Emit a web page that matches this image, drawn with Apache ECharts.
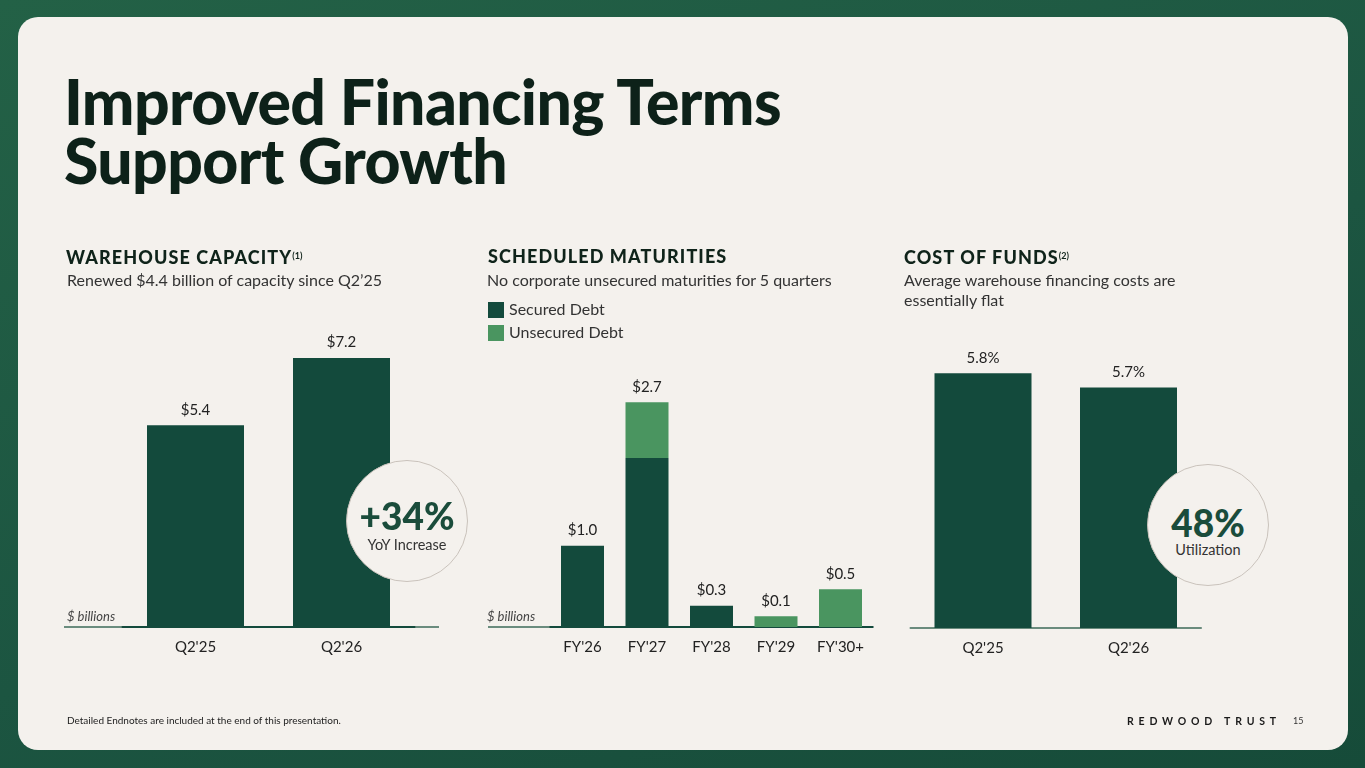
<!DOCTYPE html>
<html><head><meta charset="utf-8">
<script src="https://cdn.jsdelivr.net/npm/echarts@6/dist/echarts.min.js"></script>
<style>
html,body{margin:0;padding:0;width:1365px;height:768px;overflow:hidden;}
body{background:linear-gradient(160deg,#236146 0%,#1c5541 55%,#164b39 100%);font-family:Lato,sans-serif;position:relative;}
#card{position:absolute;left:18px;top:17px;width:1330px;height:733px;background:#f4f1ed;border-radius:20px;}
#chart{position:absolute;left:0;top:0;width:1365px;height:768px;}
.t{position:absolute;white-space:nowrap;z-index:3;}
.title{left:64px;font-family:Lato,sans-serif;font-weight:900;font-size:62.5px;color:#0d2119;line-height:60px;letter-spacing:-0.6px;}
.hd{font-weight:900;font-size:18px;color:#0f231a;letter-spacing:1.1px;line-height:20px;top:246px;}
.hd sup{font-size:9px;font-weight:700;letter-spacing:0;vertical-align:5px;}
.sub{font-size:16px;color:#333;line-height:20px;}
.unit{font-style:italic;font-size:13px;color:#444;line-height:16px;top:608px;}
.circle{position:absolute;z-index:4;width:122px;height:122px;border-radius:50%;background:#f4f1ed;border:1.5px solid #c9c2bb;box-sizing:border-box;}
.circle .big{position:absolute;left:0;right:0;text-align:center;font-weight:900;font-size:37px;color:#1a4c3b;line-height:40px;}
.circle .small{position:absolute;left:0;right:0;text-align:center;font-size:14.5px;color:#333;line-height:18px;}
.foot{font-size:10px;color:#222;top:714px;left:67px;line-height:13px;}
.brand{font-weight:700;font-size:10.5px;color:#1a1a1a;letter-spacing:4.8px;top:714px;left:1127px;line-height:14px;}
.page{font-size:9px;color:#333;top:715px;left:1293px;line-height:12px;}
</style></head>
<body>
<div id="card"></div>
<div id="chart"></div>
<div class="t title" style="top:71px;">Improved Financing Terms</div>
<div class="t title" style="top:130px;">Support Growth</div>

<div class="t hd" style="left:66px;">WAREHOUSE CAPACITY<sup>(1)</sup></div>
<div class="t sub" style="left:67px;top:270px;">Renewed $4.4 billion of capacity since Q2’25</div>
<div class="t unit" style="left:67px;">$ billions</div>

<div class="t hd" style="left:488px;">SCHEDULED MATURITIES</div>
<div class="t sub" style="left:487px;top:270px;">No corporate unsecured maturities for 5 quarters</div>
<div class="t unit" style="left:487px;">$ billions</div>

<div class="t hd" style="left:904px;">COST OF FUNDS<sup>(2)</sup></div>
<div class="t sub" style="left:904px;top:270px;">Average warehouse financing costs are<br>essentially flat</div>

<div class="circle" style="left:346px;top:460px;"><div class="big" style="top:35px;">+34%</div><div class="small" style="top:75px;">YoY Increase</div></div>
<div class="circle" style="left:1147px;top:464px;"><div class="big" style="top:38px;">48%</div><div class="small" style="top:76px;">Utilization</div></div>

<div class="t foot">Detailed Endnotes are included at the end of this presentation.</div>
<div class="t brand">REDWOOD TRUST</div>
<div class="t page">15</div>

<script>
// ---- data ----
const capCategories = ["Q2'25", "Q2'26"];
const capValues = [5.4, 7.2];

const matCategories = ["FY'26", "FY'27", "FY'28", "FY'29", "FY'30+"];
const securedDebt = [0.99, 2.06, 0.26, 0, 0];
const unsecuredDebt = [0, 0.68, 0, 0.13, 0.46];

const cofCategories = ["Q2'25", "Q2'26"];
const cofValues = [5.8, 5.7];

const DARK = '#134a3c';
const LIGHT = '#4a9560';
const FONT = 'Lato, sans-serif';

const chart = echarts.init(document.getElementById('chart'), null, {renderer: 'canvas'});

const xAxisBase = {
  type: 'category',
  axisLine: {show: true, lineStyle: {color: DARK, width: 2}},
  axisTick: {show: false},
  axisLabel: {fontSize: 15, color: '#222', margin: 13, fontFamily: FONT}
};
const yAxisBase = {type: 'value', show: false, splitLine: {show: false}};
const labelBase = {show: true, position: 'top', distance: 8, fontSize: 15, color: '#222', fontFamily: FONT};

chart.setOption({
  backgroundColor: 'transparent',
  animation: false,
  textStyle: {fontFamily: FONT},
  legend: {
    data: ['Secured Debt', 'Unsecured Debt'],
    orient: 'vertical', left: 488, top: 302, padding: 0,
    itemWidth: 16, itemHeight: 16, itemGap: 7, icon: 'rect',
    textStyle: {fontSize: 16, color: '#333', fontFamily: FONT, padding: [0, 0, 0, 0]},
    selectedMode: false
  },
  grid: [
    {left: 122.5, width: 292, top: 328, height: 299},
    {left: 550.25, width: 322.5, top: 381, height: 246},
    {left: 910.25, width: 291, top: 345, height: 283}
  ],
  xAxis: [
    Object.assign({}, xAxisBase, {gridIndex: 0, data: capCategories}),
    Object.assign({}, xAxisBase, {gridIndex: 1, data: matCategories}),
    Object.assign({}, xAxisBase, {gridIndex: 2, data: cofCategories, axisLine: {show: true, lineStyle: {color: '#3d6a58', width: 1.5}}})
  ],
  yAxis: [
    Object.assign({}, yAxisBase, {gridIndex: 0, min: 0, max: 8}),
    Object.assign({}, yAxisBase, {gridIndex: 1, min: 0, max: 3}),
    Object.assign({}, yAxisBase, {gridIndex: 2, min: 4, max: 6})
  ],
  graphic: [
    {type: 'line', shape: {x1: 64, y1: 627, x2: 439, y2: 627}, style: {stroke: '#3d6a58', lineWidth: 1.5}, z: 0},
    {type: 'line', shape: {x1: 488, y1: 627, x2: 873, y2: 627}, style: {stroke: '#3d6a58', lineWidth: 1.5}, z: 0}
  ],
  series: [
    {
      type: 'bar', xAxisIndex: 0, yAxisIndex: 0, data: capValues, barWidth: 97,
      itemStyle: {color: DARK},
      label: Object.assign({}, labelBase, {formatter: p => '$' + p.value.toFixed(1)})
    },
    {
      name: 'Secured Debt', type: 'bar', stack: 'mat', xAxisIndex: 1, yAxisIndex: 1,
      data: securedDebt, barWidth: 43, itemStyle: {color: DARK}
    },
    {
      name: 'Unsecured Debt', type: 'bar', stack: 'mat', xAxisIndex: 1, yAxisIndex: 1,
      data: unsecuredDebt, barWidth: 43, itemStyle: {color: LIGHT},
      label: Object.assign({}, labelBase, {
        formatter: p => '$' + (securedDebt[p.dataIndex] + unsecuredDebt[p.dataIndex]).toFixed(1)
      })
    },
    {
      type: 'bar', xAxisIndex: 2, yAxisIndex: 2, data: cofValues, barWidth: 97,
      itemStyle: {color: DARK},
      label: Object.assign({}, labelBase, {formatter: p => p.value.toFixed(1) + '%'})
    }
  ]
});
</script>
</body></html>
